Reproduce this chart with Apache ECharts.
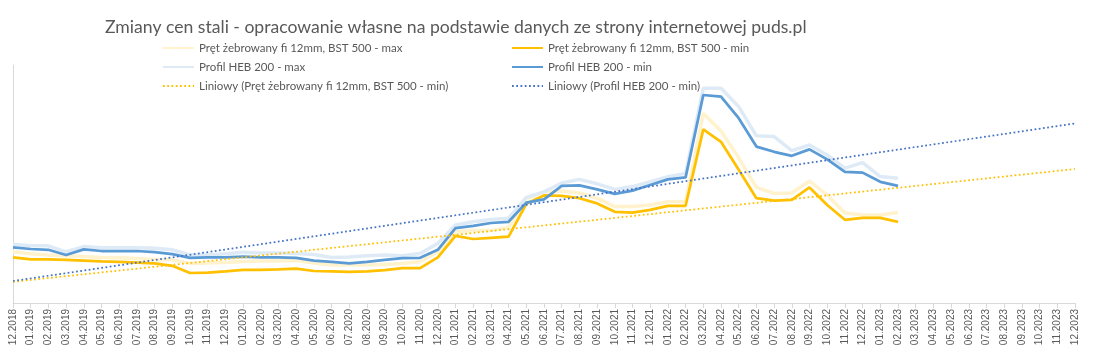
<!DOCTYPE html>
<html>
<head>
<meta charset="utf-8">
<script src="https://cdn.jsdelivr.net/npm/echarts@6/dist/echarts.min.js"></script>
<style>
html,body{margin:0;padding:0;background:#fff;}
#c{width:1095px;height:361px;}
</style>
</head>
<body>
<div id="c"></div>
<script>
const months = ['12.2018','01.2019','02.2019','03.2019','04.2019','05.2019','06.2019','07.2019','08.2019','09.2019','10.2019','11.2019','12.2019',
'01.2020','02.2020','03.2020','04.2020','05.2020','06.2020','07.2020','08.2020','09.2020','10.2020','11.2020','12.2020',
'01.2021','02.2021','03.2021','04.2021','05.2021','06.2021','07.2021','08.2021','09.2021','10.2021','11.2021','12.2021',
'01.2022','02.2022','03.2022','04.2022','05.2022','06.2022','07.2022','08.2022','09.2022','10.2022','11.2022','12.2022',
'01.2023','02.2023','03.2023','04.2023','05.2023','06.2023','07.2023','08.2023','09.2023','10.2023','11.2023','12.2023'];

const pretMax = [1280,1230,1200,1180,1160,1140,1130,1110,1090,1080,990,1000,1010,1040,1050,1050,1060,1000,950,950,950,960,990,1030,1280,
1780,1810,1810,1890,2600,2780,2800,2750,2620,2410,2410,2450,2530,2530,4740,4300,3630,2890,2740,2750,3050,2700,2250,2200,2200,2260];
const pretMin = [1140,1090,1090,1080,1060,1040,1030,1010,990,930,750,760,790,830,830,840,860,800,790,780,790,820,870,870,1140,
1680,1600,1630,1660,2480,2690,2680,2620,2490,2280,2260,2330,2430,2430,4340,4030,3330,2620,2560,2580,2890,2450,2080,2130,2130,2030];
const hebMax = [1470,1430,1430,1280,1410,1380,1380,1380,1370,1330,1200,1200,1230,1270,1250,1250,1240,1210,1140,1150,1180,1200,1180,1240,1490,
1950,2030,2090,2120,2640,2780,3000,3090,2980,2840,2910,3030,3160,3240,5370,5370,4910,4180,4160,3810,3950,3700,3370,3510,3160,3120];
const hebMin = [1390,1350,1330,1200,1340,1300,1300,1300,1270,1220,1130,1140,1140,1160,1140,1140,1130,1060,1030,990,1030,1080,1120,1130,1330,
1870,1930,2000,2030,2510,2590,2930,2940,2840,2730,2810,2950,3090,3140,5200,5160,4620,3910,3780,3680,3840,3590,3280,3260,3030,2930];
// trend line end points (first and last category)
const trendPretEnds = [530, 3350];
const trendHebEnds = [550, 4490];

const names = ['Pręt żebrowany fi 12mm, BST 500 - max','Pręt żebrowany fi 12mm, BST 500 - min','Profil HEB 200 - max','Profil HEB 200 - min',
'Liniowy (Pręt żebrowany fi 12mm, BST 500 - min)','Liniowy (Profil HEB 200 - min)'];

function ends(e){ const a = months.map(()=>null); a[0]=e[0]; a[a.length-1]=e[1]; return a; }

const txt = '#595959';
const chart = echarts.init(document.getElementById('c'), null, {renderer:'canvas'});
const legendPos = [[157,37],[506,37],[157,56],[506,56],[157,75],[506,75]];
chart.setOption({
  animation:false,
  title:{text:'Zmiany cen stali - opracowanie własne na podstawie danych ze strony internetowej puds.pl',
    left:100, top:13, textStyle:{fontFamily:'Lato', fontWeight:'normal', fontSize:17.6, color:txt}},
  legend: names.map((n,i)=>({data:[n], left:legendPos[i][0], top:legendPos[i][1], itemWidth:31, itemHeight:14, itemGap:4,
    itemStyle:{opacity:0},
    textStyle:{fontFamily:'Lato', fontSize:11.5, color:txt}})),
  grid:{left:13, right:20, top:65, bottom:58},
  xAxis:{type:'category', data:months, boundaryGap:false,
    axisLine:{lineStyle:{color:'#d9d9d9'}},
    axisTick:{show:true, length:5, lineStyle:{color:'#d9d9d9'}},
    axisLabel:{rotate:90, interval:0, fontFamily:'Liberation Sans', fontSize:10, color:txt, margin:6}},
  yAxis:{type:'value', min:0, max:5950, axisLine:{show:true, lineStyle:{color:'#d9d9d9'}}, axisLabel:{show:false},
    axisTick:{show:false}, splitLine:{show:false}},
  series:[
    {name:names[0], type:'line', data:pretMax, symbol:'none', lineStyle:{color:'#fff2cc', width:3.5}, itemStyle:{color:'#fff2cc'}},
    {name:names[1], type:'line', data:pretMin, symbol:'none', lineStyle:{color:'#ffc000', width:2.75}, itemStyle:{color:'#ffc000'}},
    {name:names[2], type:'line', data:hebMax, symbol:'none', lineStyle:{color:'#deebf7', width:3.5}, itemStyle:{color:'#deebf7'}},
    {name:names[3], type:'line', data:hebMin, symbol:'none', lineStyle:{color:'#5b9bd5', width:2.75}, itemStyle:{color:'#5b9bd5'}},
    {name:names[4], type:'line', data:ends(trendPretEnds), connectNulls:true, symbol:'none', lineStyle:{color:'#ffc000', width:1.75, type:[1.75,2.5]}, itemStyle:{color:'#ffc000'}},
    {name:names[5], type:'line', data:ends(trendHebEnds), connectNulls:true, symbol:'none', lineStyle:{color:'#4472c4', width:1.75, type:[1.75,2.5]}, itemStyle:{color:'#4472c4'}}
  ]
});
</script>
</body>
</html>
